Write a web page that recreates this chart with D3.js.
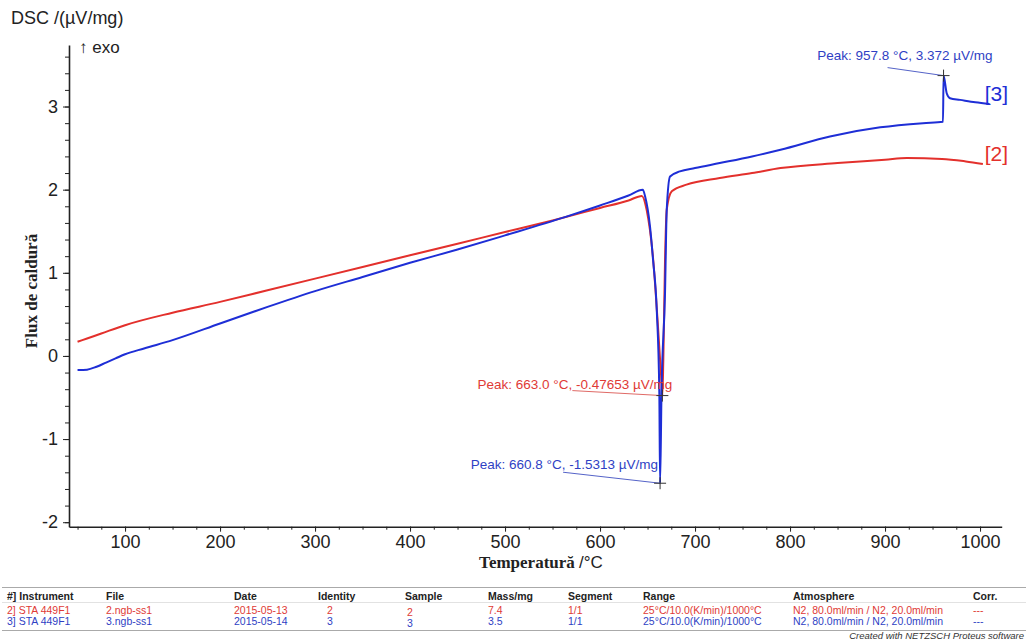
<!DOCTYPE html>
<html>
<head>
<meta charset="utf-8">
<script src="https://cdn.jsdelivr.net/npm/d3@7"></script>
<style>
  body { margin: 0; background: #fff; }
  svg { display: block; font-family: "Liberation Sans", Arial, sans-serif; }
</style>
</head>
<body>
<svg id="chart" width="1026" height="641"></svg>
<script>
// series [2] (red) - temperature / DSC signal
var redTemp = [50, 60, 75, 100, 150, 200, 250, 300, 350, 400, 450, 500, 550, 600, 630, 644, 649, 656, 661, 665, 665.6, 666.6, 668.4, 670.2, 675.5, 691, 726, 760, 790, 850, 900, 923, 960, 985, 1003];
var redDsc  = [0.17, 0.21, 0.27, 0.37, 0.52, 0.65, 0.79, 0.93, 1.07, 1.21, 1.35, 1.49, 1.63, 1.78, 1.87, 1.925, 1.76, 1.15, 0.35, -0.37, -0.477, -0.05, 1.15, 1.76, 1.98, 2.06, 2.14, 2.2, 2.26, 2.32, 2.36, 2.38, 2.37, 2.34, 2.31];

// series [3] (blue)
var blueTemp = [50, 60, 70, 80, 90, 100, 120, 150, 200, 250, 300, 350, 400, 450, 500, 563, 600, 630, 645, 647.4, 652.6, 655.8, 659.7, 662.4, 663.2, 664.7, 668.4, 670.2, 673.7, 684, 700, 726, 760, 790, 842, 895, 940, 961, 961.6, 964.9, 968.4, 979, 995, 1010];
var blueDsc  = [-0.17, -0.165, -0.13, -0.08, -0.03, 0.02, 0.09, 0.19, 0.39, 0.59, 0.78, 0.95, 1.12, 1.28, 1.45, 1.67, 1.81, 1.93, 2.0, 1.92, 1.556, 1.155, 0.553, -0.445, -1.531, -0.445, 0.758, 1.757, 2.158, 2.22, 2.26, 2.32, 2.4, 2.48, 2.64, 2.75, 2.8, 2.816, 3.372, 3.16, 3.1, 3.08, 3.05, 3.03];

var xTicks = [100, 200, 300, 400, 500, 600, 700, 800, 900, 1000];
var yTicks = [-2, -1, 0, 1, 2, 3];

// peak annotations: index into series arrays
var peakSeries = ["blue", "red", "blue"];
var peakIndex  = [38, 20, 24];
var peakLabels = ["Peak: 957.8 °C, 3.372 µV/mg", "Peak: 663.0 °C, -0.47653 µV/mg", "Peak: 660.8 °C, -1.5313 µV/mg"];

var tableHeaders = ["#] Instrument", "File", "Date", "Identity", "Sample", "Mass/mg", "Segment", "Range", "Atmosphere", "Corr."];
var tableRowRed  = ["2] STA 449F1", "2.ngb-ss1", "2015-05-13", "2", "2", "7.4", "1/1", "25°C/10.0(K/min)/1000°C", "N2, 80.0ml/min / N2, 20.0ml/min", "---"];
var tableRowBlue = ["3] STA 449F1", "3.ngb-ss1", "2015-05-14", "3", "3", "3.5", "1/1", "25°C/10.0(K/min)/1000°C", "N2, 80.0ml/min / N2, 20.0ml/min", "---"];

var RED = "#e3302c";
var BLUE = "#1e2ed6";
var RED_TXT = "#e03a36";
var BLUE_TXT = "#2f3fc4";

var svg = d3.select("#chart");

var x = d3.scaleLinear().domain([41, 1022.8]).range([69, 1001.7]);
var y = d3.scaleLinear().domain([-2.054, 3.74]).range([526.7, 45]);

// y axis
var yMinor = d3.range(-2, 3.61, 0.2);
svg.append("g")
  .attr("transform", "translate(69,0)")
  .call(d3.axisLeft(y).tickValues(yMinor).tickSize(4).tickSizeOuter(0).tickFormat(""))
  .call(g => g.select(".domain").remove())
  .call(g => g.selectAll("line").attr("stroke", "#222"));

svg.append("g")
  .attr("transform", "translate(69,0)")
  .call(d3.axisLeft(y).tickValues(yTicks).tickSize(6).tickSizeOuter(0).tickPadding(5).tickFormat(d3.format("d")))
  .call(g => g.select(".domain").attr("stroke", "#222").attr("stroke-width", 1.6))
  .call(g => g.selectAll("line").attr("stroke", "#222"))
  .call(g => g.selectAll("text").attr("font-size", 18).attr("fill", "#222")
    .attr("font-family", "Liberation Sans, Arial, sans-serif")
    .text(d => d < 0 ? "-" + Math.abs(d) : d));

// x axis
var xMinor = d3.range(50, 1001, 25);
svg.append("g")
  .attr("transform", "translate(0,526.7)")
  .call(d3.axisBottom(x).tickValues(xMinor).tickSize(3).tickSizeOuter(0).tickFormat(""))
  .call(g => g.select(".domain").remove())
  .call(g => g.selectAll("line").attr("stroke", "#222"));

svg.append("g")
  .attr("transform", "translate(0,526.7)")
  .call(d3.axisBottom(x).tickValues(xTicks).tickSize(5).tickSizeOuter(0).tickPadding(4).tickFormat(d3.format("d")))
  .call(g => g.select(".domain").attr("stroke", "#222").attr("stroke-width", 1.6))
  .call(g => g.selectAll("line").attr("stroke", "#222"))
  .call(g => g.selectAll("text").attr("font-size", 18).attr("fill", "#222")
    .attr("font-family", "Liberation Sans, Arial, sans-serif"));

// titles
svg.append("text").attr("x", 11).attr("y", 24).attr("font-size", 18).attr("fill", "#222")
  .text("DSC /(µV/mg)");
svg.append("text").attr("x", 79).attr("y", 53).attr("font-size", 17).attr("fill", "#222")
  .text("↑ exo");

svg.append("text")
  .attr("transform", "translate(37,291) rotate(-90)")
  .attr("text-anchor", "middle")
  .attr("font-family", "Liberation Serif, Times New Roman, serif")
  .attr("font-weight", "bold").attr("font-size", 17).attr("fill", "#222")
  .text("Flux de caldură");

var xl = svg.append("text").attr("x", 541).attr("y", 568).attr("text-anchor", "middle").attr("fill", "#222");
xl.append("tspan").attr("font-family", "Liberation Serif, Times New Roman, serif")
  .attr("font-weight", "bold").attr("font-size", 17).text("Temperatură ");
xl.append("tspan").attr("font-size", 17).text("/°C");

// curves
var line = d3.line().x(d => x(d[0])).y(d => y(d[1])).curve(d3.curveMonotoneX);
var redData = redTemp.map((t, i) => [t, redDsc[i]]);
var blueData = blueTemp.map((t, i) => [t, blueDsc[i]]);

svg.append("path").datum(redData).attr("d", line)
  .attr("fill", "none").attr("stroke", RED).attr("stroke-width", 2);
svg.append("path").datum(blueData).attr("d", line)
  .attr("fill", "none").attr("stroke", BLUE).attr("stroke-width", 2);

// series tags
var redEnd = redData[redData.length - 1];
var blueEnd = blueData[blueData.length - 1];
svg.append("text").attr("x", x(1005)).attr("y", y(redEnd[1]) - 3)
  .attr("font-size", 21).attr("fill", RED).text("[2]");
svg.append("text").attr("x", x(1005)).attr("y", y(blueEnd[1]) - 3)
  .attr("font-size", 21).attr("fill", BLUE).text("[3]");

// peak annotations (offsets: text end dx, baseline dy, leader start dx, dy)
var peakOffsets = [[49, -16, -56, -8], [10, -7, -90, -5], [-2, -14, -97, -11]];
peakIndex.forEach(function(idx, i) {
  var isBlue = peakSeries[i] === "blue";
  var pt = isBlue ? blueData[idx] : redData[idx];
  var px = x(pt[0]), py = y(pt[1]);
  var off = peakOffsets[i];
  svg.append("line")
    .attr("x1", px + off[2]).attr("y1", py + off[3])
    .attr("x2", px).attr("y2", py)
    .attr("stroke", isBlue ? "#5563c8" : "#e06a66").attr("stroke-width", 1);
  svg.append("path")
    .attr("d", "M" + (px - 6) + "," + py + "H" + (px + 6) + "M" + px + "," + (py - 6) + "V" + (py + 6))
    .attr("stroke", "#333").attr("stroke-width", 1);
  svg.append("text")
    .attr("x", px + off[0]).attr("y", py + off[1])
    .attr("text-anchor", "end").attr("font-size", 13.5)
    .attr("fill", isBlue ? BLUE_TXT : RED_TXT)
    .text(peakLabels[i]);
});

// info table
var colX = [7, 106, 234, 318, 405, 488, 568, 643, 793, 973];
var cellDx = [0, 0, 0, 9, 2, 0, 0, 0, 0, 0];
var cellDy = [0, 0, 0, 0, 2, 0, 0, 0, 0, 0];
svg.append("line").attr("x1", 2).attr("x2", 1026).attr("y1", 587.5).attr("y2", 587.5)
  .attr("stroke", "#aaa").attr("stroke-width", 1.2);
svg.append("line").attr("x1", 2).attr("x2", 1026).attr("y1", 602.5).attr("y2", 602.5)
  .attr("stroke", "#e2e2e2").attr("stroke-width", 1);
svg.append("line").attr("x1", 2).attr("x2", 1026).attr("y1", 630.5).attr("y2", 630.5)
  .attr("stroke", "#aaa").attr("stroke-width", 1.2);

svg.append("g").selectAll("text").data(tableHeaders).join("text")
  .attr("x", (d, i) => colX[i]).attr("y", 599.5)
  .attr("font-size", 10.5).attr("font-weight", "bold").attr("fill", "#222")
  .text(d => d);

[[tableRowRed, RED_TXT, 613.5], [tableRowBlue, BLUE_TXT, 624.5]].forEach(function(r) {
  svg.append("g").selectAll("text").data(r[0]).join("text")
    .attr("x", (d, i) => colX[i] + cellDx[i]).attr("y", (d, i) => r[2] + cellDy[i])
    .attr("font-size", 10.5).attr("fill", r[1])
    .text(d => d);
});

svg.append("text").attr("x", 1024).attr("y", 639).attr("text-anchor", "end")
  .attr("font-size", 9.5).attr("font-style", "italic").attr("fill", "#333")
  .text("Created with NETZSCH Proteus software");
</script>
</body>
</html>
